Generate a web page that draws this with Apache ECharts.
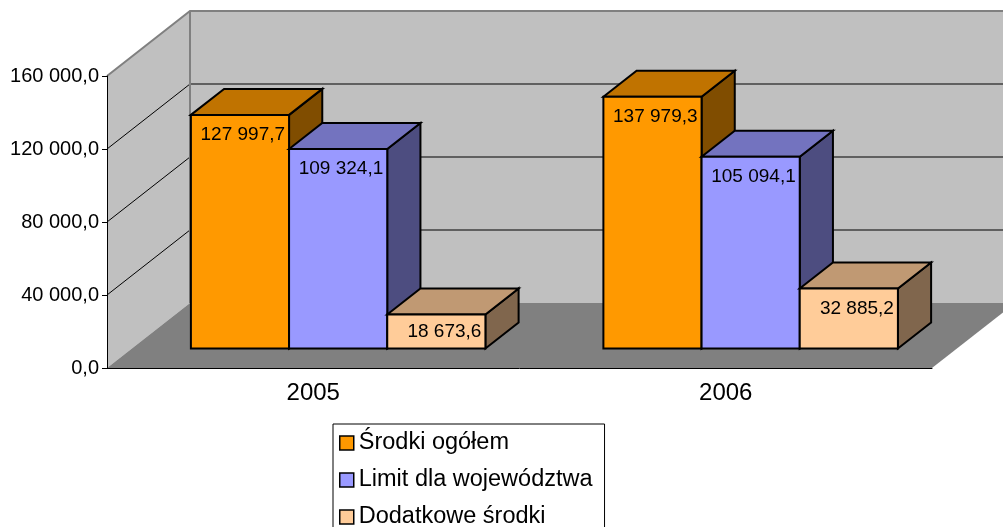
<!DOCTYPE html>
<html>
<head>
<meta charset="utf-8">
<script src="https://cdn.jsdelivr.net/npm/echarts@6/dist/echarts.min.js"></script>
<style>
  html, body { margin: 0; padding: 0; background: #fff; }
  #chart { width: 1003px; height: 527px; }
</style>
</head>
<body>
<div id="chart"></div>
<script>
const categories = ["2005", "2006"];
const seriesNames = ["Środki ogółem", "Limit dla województwa", "Dodatkowe środki"];
const srodkiOgolem = [127997.7, 137979.3];
const limitWojewodztwa = [109324.1, 105094.1];
const dodatkoweSrodki = [18673.6, 32885.2];
const yTicks = [0, 40000, 80000, 120000, 160000];

// 3d look: offset of the back wall from the front plane, in pixels
const DEPTH_X = 83;
const DEPTH_Y = -65;
const BAR_FRAC = 0.238;
const FONT = "Liberation Sans, Arial, sans-serif";

// front / top / side colours
const palette = [
  ["#FF9900", "#C07300", "#804D00"],
  ["#9999FF", "#7373BF", "#4D4D80"],
  ["#FFCC99", "#C09973", "#80664D"],
];

function fmt(v) {
  const parts = v.toFixed(1).split(".");
  const int = parts[0].replace(/\B(?=(\d{3})+(?!\d))/g, " ");
  return int + "," + parts[1];
}

function renderWalls(params, api) {
  const cs = params.coordSys;
  const L = cs.x;
  const R = cs.x + cs.width;
  const y0 = api.coord([0, yTicks[0]])[1];
  const yTop = api.coord([0, yTicks[yTicks.length - 1]])[1];
  const children = [];
  // back wall
  children.push({
    type: "polygon",
    shape: { points: [[L + DEPTH_X, yTop + DEPTH_Y], [R + DEPTH_X, yTop + DEPTH_Y], [R + DEPTH_X, y0 + DEPTH_Y], [L + DEPTH_X, y0 + DEPTH_Y]] },
    style: { fill: "#C0C0C0" },
  });
  // side wall
  children.push({
    type: "polygon",
    shape: { points: [[L, yTop], [L + DEPTH_X, yTop + DEPTH_Y], [L + DEPTH_X, y0 + DEPTH_Y], [L, y0]] },
    style: { fill: "#C0C0C0" },
  });
  // floor
  children.push({
    type: "polygon",
    shape: { points: [[L, y0], [L + DEPTH_X, y0 + DEPTH_Y], [R + DEPTH_X, y0 + DEPTH_Y], [R, y0]] },
    style: { fill: "#808080" },
  });
  // grid lines
  yTicks.slice(1, -1).forEach(function (v) {
    const y = api.coord([0, v])[1];
    children.push({
      type: "polyline",
      shape: { points: [[L, y], [L + DEPTH_X, y + DEPTH_Y], [R + DEPTH_X, y + DEPTH_Y]] },
      style: { stroke: "#000", lineWidth: 1, fill: null },
    });
  });
  // wall edges
  children.push({
    type: "polyline",
    shape: { points: [[L, yTop], [L + DEPTH_X, yTop + DEPTH_Y], [R + DEPTH_X, yTop + DEPTH_Y]] },
    style: { stroke: "#808080", lineWidth: 2, fill: null },
  });
  children.push({
    type: "line",
    shape: { x1: L + DEPTH_X, y1: yTop + DEPTH_Y, x2: L + DEPTH_X, y2: y0 + DEPTH_Y },
    style: { stroke: "#808080", lineWidth: 2 },
  });
  return { type: "group", children: children };
}

function makeBarRender(k) {
  const col = palette[k];
  return function (params, api) {
    const idx = api.value(0);
    const base = api.coord([idx, 0]);
    const top = api.coord([idx, api.value(1)]);
    const w = api.size([1, 0])[0] * BAR_FRAC;
    const x1 = base[0] - 1.5 * w + k * w + DEPTH_X * 0.3;
    const x2 = x1 + w;
    const yb = base[1] + DEPTH_Y * 0.3;
    const yt = top[1] + DEPTH_Y * 0.3;
    const dx = DEPTH_X * 0.4;
    const dy = DEPTH_Y * 0.4;
    const edge = { stroke: "#000", lineWidth: 2, lineJoin: "miter" };
    const h = yb - yt;
    return {
      type: "group",
      children: [
        {
          type: "polygon",
          shape: { points: [[x2, yt], [x2 + dx, yt + dy], [x2 + dx, yb + dy], [x2, yb]] },
          style: Object.assign({ fill: col[2] }, edge),
        },
        {
          type: "polygon",
          shape: { points: [[x1, yt], [x1 + dx, yt + dy], [x2 + dx, yt + dy], [x2, yt]] },
          style: Object.assign({ fill: col[1] }, edge),
        },
        {
          type: "rect",
          shape: { x: x1, y: yt, width: w, height: h },
          style: Object.assign({ fill: col[0] }, edge),
        },
        {
          type: "text",
          style: {
            text: fmt(api.value(1)),
            x: x2 - 4,
            y: yt + Math.min(20, h / 2),
            fill: "#000",
            fontSize: 19,
            fontFamily: FONT,
            align: "right",
            verticalAlign: "middle",
          },
        },
      ],
    };
  };
}

const seriesValues = [srodkiOgolem, limitWojewodztwa, dodatkoweSrodki];

const chart = echarts.init(document.getElementById("chart"));
const option = {
  animation: false,
  backgroundColor: "#fff",
  grid: { left: 107, right: 71, top: 76, bottom: 159 },
  legend: {
    orient: "vertical",
    left: 333,
    top: 424,
    height: 140,
    padding: [5, 12, 5, 6],
    itemWidth: 14,
    itemHeight: 14,
    itemGap: 9,
    borderColor: "#000",
    borderWidth: 1,
    textStyle: { fontSize: 23.5, fontFamily: FONT, color: "#000", lineHeight: 28 },
    data: seriesNames.map(function (n, i) {
      return { name: n, icon: "rect", itemStyle: { color: palette[i][0], borderColor: "#000", borderWidth: 1.5 } };
    }),
  },
  xAxis: {
    type: "category",
    data: categories,
    z: 5,
    axisLine: { lineStyle: { color: "#000", width: 1 } },
    axisTick: { length: 5, lineStyle: { color: "#000" } },
    axisLabel: { fontSize: 24, fontFamily: FONT, color: "#000", margin: 13 },
    splitLine: { show: false },
  },
  yAxis: {
    type: "value",
    min: 0,
    max: 160000,
    interval: 40000,
    z: 5,
    axisLine: { show: true, lineStyle: { color: "#000", width: 1 } },
    axisTick: { show: true, length: 5, lineStyle: { color: "#000" } },
    axisLabel: { fontSize: 20, fontFamily: FONT, color: "#000", margin: 8, formatter: fmt },
    splitLine: { show: false },
  },
  series: [
    {
      type: "custom",
      name: "walls",
      z: 1,
      silent: true,
      renderItem: renderWalls,
      data: [[0, 0]],
    },
  ].concat(seriesNames.map(function (n, k) {
    return {
      type: "custom",
      name: n,
      z: 2,
      itemStyle: { color: palette[k][0], borderColor: "#000" },
      renderItem: makeBarRender(k),
      encode: { x: 0, y: 1 },
      data: seriesValues[k].map(function (v, i) { return [i, v]; }),
    };
  })),
};
chart.setOption(option);
</script>
</body>
</html>
